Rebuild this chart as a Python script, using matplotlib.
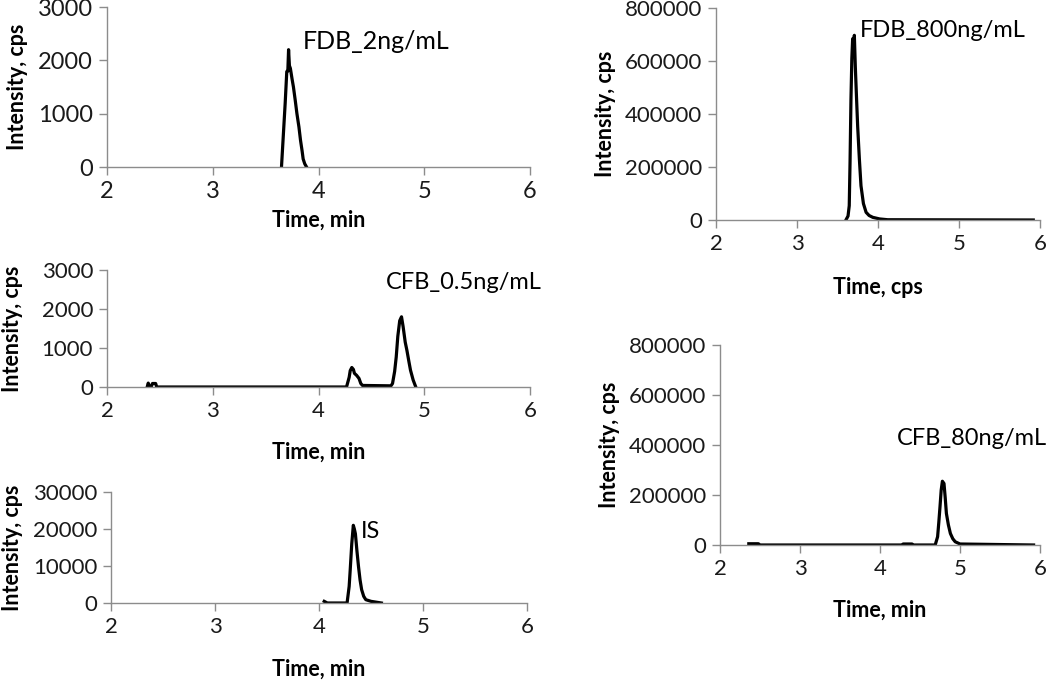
import matplotlib
matplotlib.use("Agg")
import matplotlib.pyplot as plt

plt.rcParams['font.family'] = ['Lato', 'DejaVu Sans']

# chromatogram traces (time in min, intensity in cps)
fdb2_t = [3.65, 3.685, 3.70, 3.71, 3.717, 3.725, 3.734, 3.75, 3.763, 3.78, 3.796, 3.815,
          3.83, 3.845, 3.855, 3.87, 3.887]
fdb2_i = [0, 1200, 1790, 1800, 2200, 1900, 1850, 1650, 1500, 1250, 1000, 750,
          500, 300, 150, 60, 0]

cfb05_t = [2.38, 2.39, 2.40, 2.42, 2.43, 2.46, 2.47, 4.265, 4.29, 4.30, 4.315, 4.33, 4.34,
           4.36, 4.383, 4.40, 4.416, 4.685, 4.70, 4.72, 4.735, 4.75, 4.768, 4.785, 4.80,
           4.82, 4.836, 4.855, 4.87, 4.895, 4.92]
cfb05_i = [0, 100, 20, 20, 90, 90, 0, 0, 250, 420, 500, 450, 350,
           300, 220, 90, 40, 30, 90, 400, 770, 1300, 1700, 1800, 1550,
           1150, 940, 650, 430, 180, 0]

is_t = [4.05, 4.08, 4.27, 4.29, 4.30, 4.315, 4.33, 4.34, 4.35, 4.365, 4.38, 4.395,
        4.41, 4.43, 4.45, 4.50, 4.60]
is_i = [450, 0, 0, 4500, 8900, 16000, 21000, 20000, 18700, 14000, 9800, 6200,
        3600, 1800, 900, 450, 0]

fdb800_t = [3.604, 3.63, 3.645, 3.655, 3.666, 3.677, 3.687, 3.70, 3.708, 3.72, 3.735,
            3.749, 3.77, 3.79, 3.82, 3.853, 3.89, 3.936, 4.02, 4.12, 5.917]
fdb800_i = [0, 15000, 54000, 220000, 453000, 610000, 684000, 660000, 697000, 578000, 460000,
            353000, 230000, 129000, 62000, 29000, 17000, 10000, 4000, 1000, 0]

cfb80_t = [2.36, 2.48, 2.50, 4.27, 4.29, 4.40, 4.42, 4.69, 4.72, 4.735, 4.75, 4.765, 4.78,
           4.80, 4.815, 4.83, 4.855, 4.88, 4.91, 4.94, 5.00, 5.92]
cfb80_i = [5000, 5000, 0, 0, 4000, 4000, 0, 0, 33000, 90000, 153000, 220000, 255000,
           246000, 190000, 126000, 80000, 46000, 25000, 13000, 4000, 0]

W, H = 1050, 680
fig = plt.figure(figsize=(W / 100, H / 100), dpi=100)
grey = '#8c8c8c'


def px_axes(x0, x1, y0, y1):
    return fig.add_axes([x0 / W, 1 - y1 / H, (x1 - x0) / W, (y1 - y0) / H])


def panel(box, t, i, ymax, ystep, label, lab_xy, xlab, ylab_x, xlab_y, fs=16):
    x0, x1, y0, y1 = box
    ax = px_axes(x0, x1, y0, y1)
    ax.plot(t, i, color='black', lw=2.3, solid_joinstyle='round')
    ax.set_xlim(2, 6)
    ax.set_ylim(0, ymax)
    ax.set_xticks([2, 3, 4, 5, 6])
    ax.set_yticks(range(0, ymax + 1, ystep))
    for s in ['top', 'right']:
        ax.spines[s].set_visible(False)
    for s in ['left', 'bottom']:
        ax.spines[s].set_color(grey)
        ax.spines[s].set_linewidth(1)
    ax.tick_params(direction='out', length=6, width=1, color=grey,
                   labelsize=fs, labelcolor='#1a1a1a', pad=4)
    ax.text(lab_xy[0], lab_xy[1], label, fontsize=fs + 1, va='center', ha='left')
    fig.text((x0 + x1) / 2 / W, 1 - xlab_y / H, xlab, fontsize=15.5, fontweight='bold',
             ha='center', va='center')
    fig.text(ylab_x / W, 1 - (y0 + y1) / 2 / H, 'Intensity, cps', fontsize=15.5,
             fontweight='bold', rotation=90, ha='center', va='center')
    return ax


panel((107, 530, 7, 167), fdb2_t, fdb2_i, 3000, 1000, 'FDB_2ng/mL', (3.85, 2350),
      'Time, min', 18, 220, fs=17)
panel((107, 530, 270, 387), cfb05_t, cfb05_i, 3000, 1000, 'CFB_0.5ng/mL', (4.64, 2680),
      'Time, min', 13, 452)
panel((111, 527, 492, 603), is_t, is_i, 30000, 10000, 'IS', (4.40, 19300),
      'Time, min', 13, 669)
panel((716, 1040, 8, 220), fdb800_t, fdb800_i, 800000, 200000, 'FDB_800ng/mL', (3.78, 714000),
      'Time, cps', 605, 287)
panel((720, 1040, 345, 545), cfb80_t, cfb80_i, 800000, 200000, 'CFB_80ng/mL', (4.21, 426000),
      'Time, min', 610, 610)

fig.savefig('out.png', dpi=100)
